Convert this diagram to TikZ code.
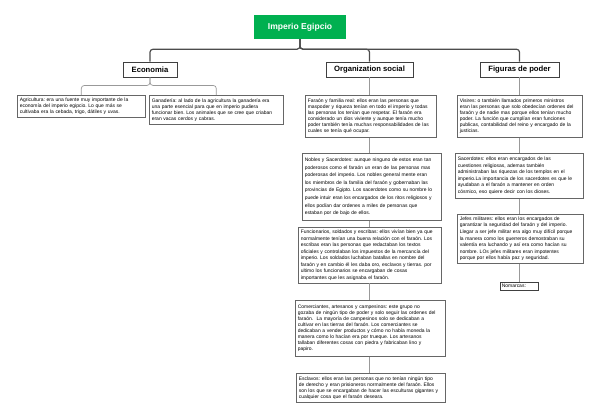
\documentclass[tikz,border=0pt]{standalone}
\usepackage{fontspec}
\setmainfont{Liberation Sans}
\frenchspacing
\definecolor{verde}{RGB}{0,176,80}
\tikzset{x=1bp, y=-1bp,
   raiz/.style={fill=verde, text=white, font=\bfseries\fontsize{8.6}{10}\selectfont, minimum width=92bp, minimum height=24bp, inner sep=0pt},
   tema/.style={draw=black!75, line width=0.9bp, fill=white, font=\bfseries\fontsize{7.7}{9}\selectfont, minimum height=15bp, inner sep=0pt},
   caja/.style={anchor=north west, draw=black!60, line width=0.6bp, fill=white, align=left, inner sep=2.5bp, font=\fontsize{5}{6.1}\selectfont},
   tronco/.style={draw=black!70, line width=1.2bp, rounded corners=3bp},
   rama/.style={draw=black!40, line width=0.7bp, rounded corners=3bp}}

\begin{document}
\begin{tikzpicture}
   \useasboundingbox (0,0) rectangle (600,418);
   % titulo y temas
   \node[raiz] (titulo) at (300,27) {Imperio Egipcio};
   \node[tema, minimum width=54bp] (econ) at (150,69.5) {Economia};
   \node[tema, minimum width=87bp] (org) at (369.5,69.5) {Organization social};
   \node[tema, minimum width=79bp] (figuras) at (519.5,69.5) {Figuras de poder};
   \draw[tronco] (titulo.south) -- ++(0,10) -| (econ.north);
   \draw[tronco] (titulo.south) -- ++(0,10) -| (figuras.north);
   \draw[tronco] (titulo.south) -- ++(0,10) -| (org.north);
   % Economia
   \node[caja, text width=123bp, minimum height=22bp] (agri) at (17,95)
      {Agricultura: era una fuente muy importante de la\\economía del imperio egipcio. Lo que más se\\cultivaba era la cebada, trigo, dátiles y uvas.};
   \node[caja, text width=129bp, minimum height=29bp] (gana) at (149,95)
      {Ganadería: al lado de la agricultura la ganadería era\\una parte esencial para que en imperio pudiera\\funcionar bien. Los animales que se cree que criaban\\eran vacas cerdos y cabras.};
   \draw[rama] (econ.south) -- ++(0,8) -| (agri.north);
   \draw[rama] (econ.south) -- ++(0,8) -| (gana.north);
   % Organization social
   \node[caja, text width=126bp, minimum height=42bp] (faraon) at (305,95)
      {Faraón y familia real: ellos eran las personas que\\maspoder y riqueza tenían en todo el imperio y todas\\las personas los tenían que respetar. El faraón era\\considerado un dios viviente y aunque tenía mucho\\poder también tenía muchas responsabilidades de las\\cuales se tenía qué ocupar.};
   \node[caja, text width=134bp, minimum height=67bp, font=\fontsize{5}{7.6}\selectfont] (nobles) at (302,153)
      {Nobles y Sacerdotes: aunque ninguno de estos eran tan\\poderosos como el faraón un eran de las personas mas\\poderosas del imperio. Los nobles general mente eran\\los miembros de la familia del faraón y gobernaban las\\provincias de Egipto. Los sacerdotes como su nombre lo\\puede intuir eran los encargados de los ritos religiosos y\\ellos podían dar ordenes a miles de personas que\\estaban por de bajo de ellos.};
   \node[caja, text width=138bp, minimum height=55bp, font=\fontsize{5}{6.6}\selectfont] (funci) at (298,227)
      {Funcionarios, soldados y escribas: ellos vivían bien ya que\\normalmente tenían una buena relación con el faraón. Los\\escribas eran las personas que redactaban los textos\\oficiales y controlaban los impuestos de la mercancía del\\imperio. Los soldados luchaban batallas en nombre del\\faraón y en cambio él les daba oro, esclavos y tierras. por\\ultimo los funcionarios se encargaban de cosas\\importantes que les asignaba el faraón.};
   \node[caja, text width=145bp, minimum height=56bp] (comer) at (295,300)
      {Comerciantes, artesanos y campesinos: este grupo no\\gozaba de ningún tipo de poder y solo seguir las ordenes del\\faraón.\ \ La mayoría de campesinos solo se dedicaban a\\cultivar en las tierras del faraón. Los comerciantes se\\dedicaban a vender productos y cómo no había moneda la\\manera como lo hacían era por trueque. Los artesanos\\tallaban diferentes cosas con piedra y fabricaban lino y\\papiro.};
   \node[caja, text width=144bp, minimum height=29bp] (escla) at (296,373)
      {Esclavos: ellos eran las personas que no tenían ningún tipo\\de derecho y eran prisioneros normalmente del faraón. Ellos\\son los que se encargaban de hacer las esculturas gigantes y\\cualquier cosa que el faraón deseara.};
   \draw[rama] (org.south) -- (org.south |- faraon.north);
   \draw[rama] (org.south |- faraon.south) -- (org.south |- nobles.north);
   \draw[rama] (org.south |- nobles.south) -- (org.south |- funci.north);
   \draw[rama] (org.south |- funci.south) -- (org.south |- comer.north);
   \draw[rama] (org.south |- comer.south) -- (org.south |- escla.north);
   % Figuras de poder
   \node[caja, text width=120bp, minimum height=42bp] (visir) at (457,95)
      {Visires: o también llamados primeros ministros\\eran las personas que solo obedecían ordenes del\\faraón y de nadie mas porque ellos tenían mucho\\poder. La función que cumplían eran funciones\\publicas, contabilidad del reino y encargado de la\\justicias.};
   \node[caja, text width=123bp, minimum height=45bp, font=\fontsize{5}{6.6}\selectfont] (sacer) at (455,153)
      {Sacerdotes: ellos eran encargados de las\\cuestiones religiosas, ademas también\\administraban las riquezas de los templos en el\\imperio.La importancia de los sacerdotes es que le\\ayudaban a el faraón a mantener en orden\\cósmico, eso quiere decir con los dioses.};
   \node[caja, text width=121bp, minimum height=49bp, font=\fontsize{5}{6.6}\selectfont] (jefes) at (457,214)
      {Jefes militares: ellos eran los encargados de\\garantizar la seguridad del faraón y del imperio.\\Llegar a ser jefe militar era algo muy difícil porque\\la manera como los guerreros demostraban su\\valentía era luchando y así era como hacían su\\nombre. LOs jefes militares eran impotentes\\porque por ellos había paz y seguridad.};
   \node[caja, text width=35bp, minimum height=8bp, inner sep=1.5bp, draw=black!75] (nomar) at (500,282) {Nomarcas:};
   \draw[rama] (figuras.south) -- (figuras.south |- visir.north);
   \draw[rama] (figuras.south |- visir.south) -- (figuras.south |- sacer.north);
   \draw[rama] (figuras.south |- sacer.south) -- (figuras.south |- jefes.north);
   \draw[rama] (figuras.south |- jefes.south) -- (figuras.south |- nomar.north);
\end{tikzpicture}
\end{document}
